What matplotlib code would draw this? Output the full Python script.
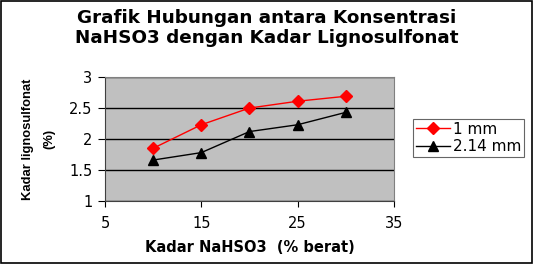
import matplotlib
matplotlib.use("Agg")
import matplotlib.pyplot as plt

konsentrasi = [10, 15, 20, 25, 30]
kadar_1mm = [1.85, 2.23, 2.50, 2.61, 2.69]
kadar_214mm = [1.66, 1.78, 2.12, 2.23, 2.43]
xticks = [5, 15, 25, 35]
yticks = [1, 1.5, 2, 2.5, 3]

plt.rcParams["font.family"] = ["DejaVu Sans"]

fig = plt.figure(figsize=(5.33, 2.64), dpi=100)
ax = fig.add_axes([0.197, 0.239, 0.542, 0.469])
ax.set_facecolor("#C0C0C0")

ax.plot(konsentrasi, kadar_1mm, color="red", marker="D", markersize=6.5,
        linewidth=1, label="1 mm", zorder=3)
ax.plot(konsentrasi, kadar_214mm, color="black", marker="^", markersize=7.5,
        linewidth=1, label="2.14 mm", zorder=3)

ax.set_xlim(5, 35)
ax.set_ylim(1, 3)
ax.set_xticks(xticks)
ax.set_yticks(yticks)
ax.set_yticklabels(["1", "1.5", "2", "2.5", "3"])
ax.yaxis.grid(True, color="black", linewidth=1)
ax.set_axisbelow(True)
ax.tick_params(axis="x", direction="out", length=4, labelsize=10.5, pad=7)
ax.tick_params(axis="y", direction="out", length=5, labelsize=10.5, pad=4)
for s in ["top", "right"]:
    ax.spines[s].set_color("#808080")
ax.spines["left"].set_color("#404040")
ax.spines["bottom"].set_color("#404040")

ax.set_xlabel("Kadar NaHSO3  (% berat)", fontsize=10.5, fontweight="bold", labelpad=6)
ax.set_ylabel("Kadar lignosulfonat\n(%)", fontsize=9.4, fontweight="bold", labelpad=10,
              family=["Liberation Sans Narrow", "Liberation Sans"], linespacing=2.0)

fig.text(0.5, 0.965, "Grafik Hubungan antara Konsentrasi\nNaHSO3 dengan Kadar Lignosulfonat",
         ha="center", va="top", fontsize=13.2, fontweight="bold", linespacing=1.15)

h, l = ax.get_legend_handles_labels()
leg = fig.legend(h, l, loc="upper left", bbox_to_anchor=(0.775, 0.551), fontsize=11,
                 frameon=True, fancybox=False, edgecolor="#404040", handlelength=2.2,
                 borderpad=0.2, labelspacing=0.15, handletextpad=0.2, borderaxespad=0)
leg.get_frame().set_linewidth(0.8)

fig.patches.append(plt.Rectangle((0.002, 0.004), 0.996, 0.992, transform=fig.transFigure,
                                 fill=False, edgecolor="black", linewidth=1.2))

fig.savefig("out.png", dpi=100)
